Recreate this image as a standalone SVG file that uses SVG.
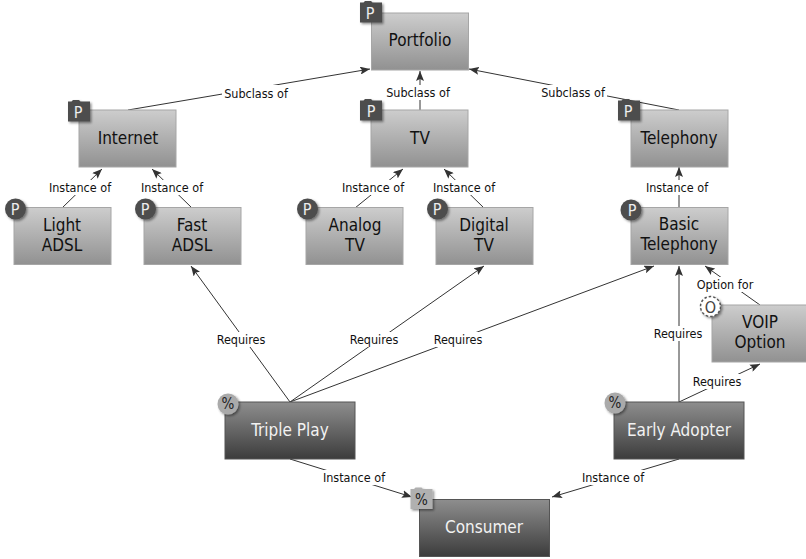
<svg xmlns="http://www.w3.org/2000/svg" width="806" height="559" viewBox="0 0 806 559">
<style>
text{font-family:"DejaVu Sans Condensed","DejaVu Sans",sans-serif;font-stretch:condensed;text-anchor:middle}
.n{font-size:17px;fill:#111}
.d{font-size:17px;fill:#f2f2f2}
.l{font-size:12.5px;fill:#111}
.b{font-size:16px;fill:#eee}
.pc{font-size:15px;fill:#222}
.lb{fill:#fff}
.c{fill:none;stroke:#333;stroke-width:1;marker-end:url(#a)}
.lt{fill:url(#g1);stroke:#a6a6a6}
.dk{fill:url(#g2);stroke:#555}
</style>
<defs>
<linearGradient id="g1" x1="0" y1="0" x2="0" y2="1"><stop offset="0" stop-color="#cdcdcd"/><stop offset="1" stop-color="#919191"/></linearGradient>
<linearGradient id="g2" x1="0" y1="0" x2="0" y2="1"><stop offset="0" stop-color="#8e8e8e"/><stop offset="1" stop-color="#3c3c3c"/></linearGradient>
<marker id="a" viewBox="0 0 10 8" refX="10" refY="4" markerWidth="10" markerHeight="8" orient="auto" markerUnits="userSpaceOnUse"><path d="M0 0L10 4L0 8L2 4Z" fill="#333"/></marker>
<filter id="s" x="-30%" y="-30%" width="170%" height="170%"><feDropShadow dx="1.5" dy="1.5" stdDeviation="1.2" flood-color="#000" flood-opacity=".45"/></filter>
<path id="tab" d="M-11-10.500h3.500l1.500-1.500h6l1.500 1.500H11V9.500H-11Z"/>
</defs>
<g id="connectors">
<path class="c" d="M128 110L370 69"/>
<path class="c" d="M420 110V71"/>
<path class="c" d="M679 110L469 69"/>
<path class="c" d="M62 208L102 169"/>
<path class="c" d="M192 208L152 169"/>
<path class="c" d="M355 208L403 169"/>
<path class="c" d="M484 208L444 169"/>
<path class="c" d="M679 208V167"/>
<path class="c" d="M290 402L191 266"/>
<path class="c" d="M290 402L484 266"/>
<path class="c" d="M290 402L654 266"/>
<path class="c" d="M679 402V266"/>
<path class="c" d="M679 402L760 364"/>
<path class="c" d="M760 305L705 266"/>
<path class="c" d="M290 459L412 497"/>
<path class="c" d="M679 459L552 497"/>
<g id="edge-labels">
<rect class="lb" x="222" y="85" width="68" height="15"/><text class="l" x="256" y="98">Subclass of</text>
<rect class="lb" x="384" y="85" width="68" height="15"/><text class="l" x="418" y="97">Subclass of</text>
<rect class="lb" x="539" y="85" width="68" height="15"/><text class="l" x="573" y="97">Subclass of</text>
<rect class="lb" x="48" y="180" width="66" height="15"/><text class="l" x="80" y="192">Instance of</text>
<rect class="lb" x="139" y="180" width="66" height="15"/><text class="l" x="172" y="192">Instance of</text>
<rect class="lb" x="340" y="180" width="66" height="15"/><text class="l" x="373" y="192">Instance of</text>
<rect class="lb" x="431" y="180" width="66" height="15"/><text class="l" x="464" y="192">Instance of</text>
<rect class="lb" x="644" y="180" width="66" height="15"/><text class="l" x="677" y="192">Instance of</text>
<rect class="lb" x="216" y="332" width="50" height="15"/><text class="l" x="241" y="344">Requires</text>
<rect class="lb" x="349" y="332" width="50" height="15"/><text class="l" x="374" y="344">Requires</text>
<rect class="lb" x="433" y="332" width="50" height="15"/><text class="l" x="458" y="344">Requires</text>
<rect class="lb" x="653" y="326" width="50" height="15"/><text class="l" x="678" y="338">Requires</text>
<rect class="lb" x="692" y="374" width="50" height="15"/><text class="l" x="717" y="386">Requires</text>
<rect class="lb" x="695" y="277" width="60" height="15"/><text class="l" x="725" y="289">Option for</text>
<rect class="lb" x="321" y="470" width="66" height="15"/><text class="l" x="354" y="482">Instance of</text>
<rect class="lb" x="580" y="470" width="66" height="15"/><text class="l" x="613" y="482">Instance of</text>
</g>
</g>
<g id="portfolio"><rect class="lt" x="371.500" y="13" width="97" height="57"/><text class="n" x="420" y="46">Portfolio</text><use href="#tab" x="371" y="13" fill="#4d4d4d" filter="url(#s)"/><text class="b" x="370" y="19">P</text></g>
<g id="internet"><rect class="lt" x="79" y="110" width="97" height="57"/><text class="n" x="128" y="144">Internet</text><use href="#tab" x="79" y="112" fill="#4d4d4d" filter="url(#s)"/><text class="b" x="78" y="118">P</text></g>
<g id="tv"><rect class="lt" x="371" y="110" width="97" height="57"/><text class="n" x="420" y="144">TV</text><use href="#tab" x="371" y="111" fill="#4d4d4d" filter="url(#s)"/><text class="b" x="371" y="117">P</text></g>
<g id="telephony"><rect class="lt" x="631" y="110" width="97" height="57"/><text class="n" x="679" y="144">Telephony</text><use href="#tab" x="629" y="111" fill="#4d4d4d" filter="url(#s)"/><text class="b" x="628" y="117">P</text></g>
<g id="light-adsl"><rect class="lt" x="14" y="207.500" width="97" height="57"/><text class="n" x="62" y="231">Light</text><text class="n" x="62" y="251">ADSL</text><circle cx="15.500" cy="209" r="10.500" fill="#4d4d4d" filter="url(#s)"/><text class="b" x="15" y="215">P</text></g>
<g id="fast-adsl"><rect class="lt" x="144" y="207.500" width="97" height="57"/><text class="n" x="192" y="231">Fast</text><text class="n" x="192" y="251">ADSL</text><circle cx="145.500" cy="209" r="10.500" fill="#4d4d4d" filter="url(#s)"/><text class="b" x="145" y="215">P</text></g>
<g id="analog-tv"><rect class="lt" x="306" y="207.500" width="97" height="57"/><text class="n" x="355" y="231">Analog</text><text class="n" x="355" y="251">TV</text><circle cx="307.500" cy="209" r="10.500" fill="#4d4d4d" filter="url(#s)"/><text class="b" x="307" y="215">P</text></g>
<g id="digital-tv"><rect class="lt" x="436" y="207.500" width="97" height="57"/><text class="n" x="484" y="231">Digital</text><text class="n" x="484" y="251">TV</text><circle cx="437.500" cy="209" r="10.500" fill="#4d4d4d" filter="url(#s)"/><text class="b" x="437" y="215">P</text></g>
<g id="basic-telephony"><rect class="lt" x="631" y="207.500" width="97" height="57"/><text class="n" x="679" y="230">Basic</text><text class="n" x="679" y="250">Telephony</text><circle cx="631" cy="210" r="10.500" fill="#4d4d4d" filter="url(#s)"/><text class="b" x="632" y="216">P</text></g>
<g id="voip-option"><rect class="lt" x="712" y="305" width="97" height="57"/><text class="n" x="760" y="328">VOIP</text><text class="n" x="760" y="348">Option</text><circle cx="710.500" cy="306.500" r="10" fill="#fff" stroke="#555" stroke-width="1.500" stroke-dasharray="2.500 2" filter="url(#s)"/><text x="710.500" y="312.500" font-size="16" fill="#444">O</text></g>
<g id="triple-play"><rect class="dk" x="225" y="402" width="130" height="57"/><text class="d" x="290" y="436">Triple Play</text><circle cx="228" cy="404" r="10.500" fill="#aaa" filter="url(#s)"/><text class="pc" x="228" y="409">%</text></g>
<g id="early-adopter"><rect class="dk" x="614" y="402" width="130" height="57"/><text class="d" x="679" y="436">Early Adopter</text><circle cx="615" cy="403" r="10.500" fill="#aaa" filter="url(#s)"/><text class="pc" x="615" y="408">%</text></g>
<g id="consumer"><rect class="dk" x="419.500" y="499.500" width="130" height="57"/><text class="d" x="484" y="533">Consumer</text><use href="#tab" x="421.500" y="499.500" fill="#b0b0b0" filter="url(#s)"/><text class="pc" x="421.500" y="505">%</text></g>
</svg>
